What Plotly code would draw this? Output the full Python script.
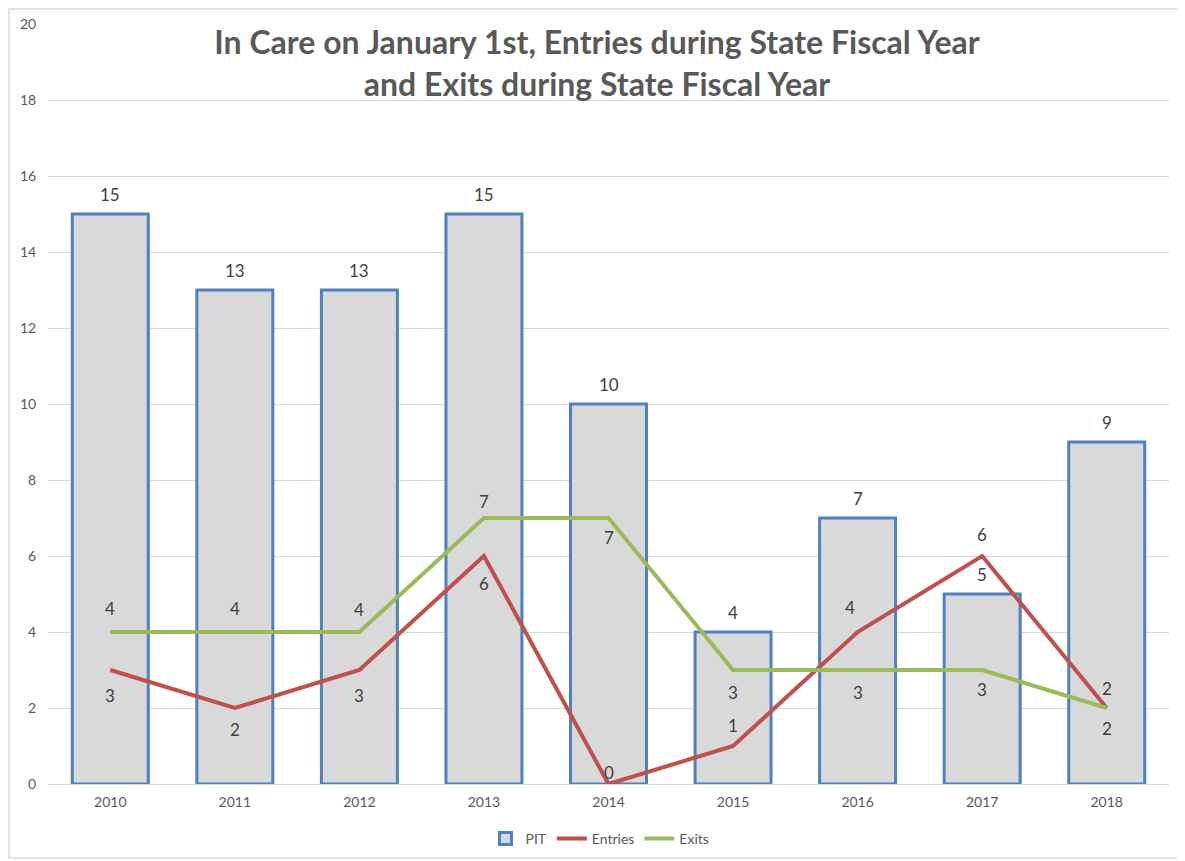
import plotly.graph_objects as go

years = ["2010", "2011", "2012", "2013", "2014", "2015", "2016", "2017", "2018"]
pit = [15, 13, 13, 15, 10, 4, 7, 5, 9]
entries = [3, 2, 3, 6, 0, 1, 4, 6, 2]
exits = [4, 4, 4, 7, 7, 3, 3, 3, 2]

# label offsets in pixels (style only)
pit_shift = [20] * 9
entries_shift = [-25, -21, -25, -27, 12, 21, 25, 22, 20]
entries_xshift = [0, 0, 0, 0, 0, 0, -8, 0, 0]
exits_shift = [24, 24, 23, 17, -19, -22, -22, -19, -20]
zeros = [0] * 9

label_font = dict(family="Lato, Open Sans, sans-serif", size=17, color="#404040")
axis_font = dict(family="Lato, Open Sans, sans-serif", size=14, color="#595959")

fig = go.Figure()
fig.add_trace(go.Bar(
    x=years, y=pit, name="PIT",
    marker=dict(color="#D9D9D9", line=dict(color="#4F81BD", width=3)),
))
fig.add_trace(go.Scatter(
    x=years, y=entries, name="Entries", mode="lines",
    line=dict(color="#C0504D", width=4),
))
fig.add_trace(go.Scatter(
    x=years, y=exits, name="Exits", mode="lines",
    line=dict(color="#9BBB59", width=4),
))

annotations = []
for series, shifts, xshifts in ((pit, pit_shift, zeros),
                                (entries, entries_shift, entries_xshift),
                                (exits, exits_shift, zeros)):
    for i, (yv, s, xs) in enumerate(zip(series, shifts, xshifts)):
        annotations.append(dict(
            x=i, y=yv, xref="x", yref="y", text=str(yv), showarrow=False,
            yshift=s, xshift=xs, font=label_font,
        ))

W, H = 1177, 853
L, T, R, B = 40, 16, 16, 77
pw, ph = W - L - R, H - T - B

fig.update_layout(
    width=W, height=H,
    margin=dict(l=L, r=R, t=T, b=B, autoexpand=False),
    paper_bgcolor="white", plot_bgcolor="white",
    bargap=0.39,
    title=dict(
        text="In Care on January 1st, Entries during State Fiscal Year<br>and Exits during State Fiscal Year",
        x=589 / W, xanchor="center", y=1 - 46 / H, yanchor="middle",
        font=dict(family="Lato, Open Sans, sans-serif", size=32, color="#595959", weight="bold"),
    ),
    xaxis=dict(
        type="category", range=[-0.5, 8.5], tickfont=axis_font, showgrid=False, showline=True,
        linecolor="#D9D9D9", linewidth=1, ticks="outside", ticklen=5, tickcolor="rgba(0,0,0,0)",
        automargin=False,
    ),
    yaxis=dict(
        range=[0, 20], dtick=2, tickfont=axis_font, showgrid=True,
        gridcolor="#D9D9D9", gridwidth=1, zeroline=False, showline=False,
        ticks="outside", ticklen=8, tickcolor="rgba(0,0,0,0)",
        automargin=False,
    ),
    legend=dict(
        orientation="h", x=(592 - L) / pw, xanchor="center",
        yref="container", y=1 - 831 / H, yanchor="middle",
        font=axis_font, bgcolor="rgba(0,0,0,0)",
    ),
    annotations=annotations,
    shapes=[dict(
        type="rect", xref="paper", yref="paper",
        x0=(1 - L) / pw, x1=(1174 - L) / pw,
        y0=(ph + T - 850) / ph, y1=(ph + T - 1) / ph,
        line=dict(color="#D9D9D9", width=1.5), fillcolor="rgba(0,0,0,0)",
        layer="below",
    )],
)

fig.write_html("out.html")
